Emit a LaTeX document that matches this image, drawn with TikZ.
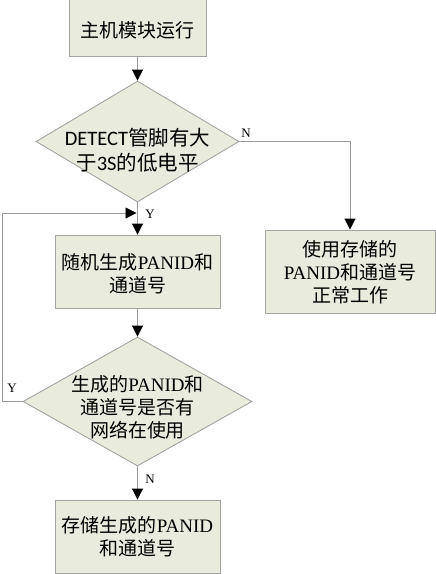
\documentclass[tikz,border=0pt]{standalone}
\usepackage{fontspec}
\setmainfont{Liberation Serif}
\newfontfamily\cjk{Noto Sans CJK SC}
\newfontfamily\carl{Carlito}
\usetikzlibrary{shapes.geometric,arrows.meta}
\definecolor{boxfill}{HTML}{E9ECDD}
\definecolor{boxline}{HTML}{A3A3A3}
\definecolor{conn}{HTML}{9A9A9A}
\tikzset{
  procbox/.style={draw=boxline,fill=boxfill,line width=0.9pt,inner sep=0pt,rectangle},
  decbox/.style={draw=boxline,fill=boxfill,line width=0.9pt,inner sep=0pt,diamond},
  txt/.style={font=\fontsize{19}{23}\selectfont,align=center,inner sep=0pt},
  lbl/.style={font=\fontsize{13}{15}\selectfont,inner sep=0pt},
  arr/.style={draw=conn,line width=0.9pt,-{Triangle[width=11pt,length=11pt,color=black]}},
  ln/.style={draw=conn,line width=0.9pt}
}
\begin{document}
\begin{tikzpicture}[x=1pt,y=-1pt]
\useasboundingbox (0,0) rectangle (436,574);
% nodes
\node[procbox,minimum width=137pt,minimum height=57pt] (b1) at (137.5,27.5) {};
\node[txt] (t1) at (137.5,30) {\cjk 主机模块运行};
\node[decbox,minimum width=203pt,minimum height=121pt] (d1) at (137.5,141.5) {};
\node[txt,font=\fontsize{20.5}{25}\selectfont] (t2) at (137.5,150) {\carl DETECT\cjk 管脚有大\\\cjk 于\carl 3S\cjk 的低电平};
\node[procbox,minimum width=170pt,minimum height=83pt] (b4) at (350,271.5) {};
\node[txt] (t4) at (350,272) {\cjk 使用存储的\\PANID\cjk 和通道号\\\cjk 正常工作};
\node[procbox,minimum width=165pt,minimum height=73pt] (b2) at (137.5,271.5) {};
\node[txt] (t3) at (137.5,274) {\cjk 随机生成\rmfamily PANID\cjk 和\\\cjk 通道号};
\node[decbox,minimum width=229pt,minimum height=129pt] (d2) at (137.5,401.5) {};
\node[txt] (t5) at (137.5,407) {\cjk 生成的\rmfamily PANID\cjk 和\\\cjk 通道号是否有\\\cjk 网络在使用};
\node[procbox,minimum width=165pt,minimum height=73pt] (b3) at (137.5,536.5) {};
\node[txt] (t6) at (137.5,537) {\cjk 存储生成的\rmfamily PANID\\\cjk 和通道号};
% helper coordinates
\coordinate (loopL) at (2,213);
\coordinate (loopT) at (137.5,213);
\coordinate (nTurn) at (350,141.5);
% connectors
\draw[arr] (b1.south) -- (d1.north);
\draw[ln] (d1.south) -- (loopT);
\draw[arr] (loopT) -- (b2.north);
\draw[arr] (d1.east) -- (nTurn) -- (b4.north);
\draw[arr] (b2.south) -- (d2.north);
\draw[ln] (d2.west) -| (loopL);
\draw[arr] (loopL) -- ([xshift=-1pt]loopT);
\draw[arr] (d2.south) -- (b3.north);
% labels
\node[lbl] (lN1) at (246,133) {N};
\node[lbl] (lY1) at (150,214) {Y};
\node[lbl] (lY2) at (12,388) {Y};
\node[lbl] (lN2) at (150,479) {N};
\end{tikzpicture}
\end{document}
